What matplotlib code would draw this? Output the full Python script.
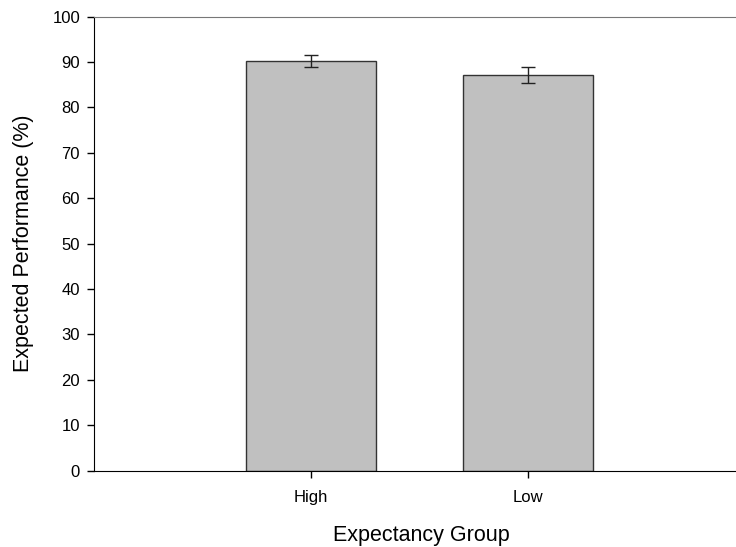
import matplotlib
matplotlib.use("Agg")
import matplotlib.pyplot as plt

groups = ["High", "Low"]
means = [90.25, 87.2]
errors = [1.35, 1.75]

plt.rcParams['font.family'] = ['Liberation Sans', 'DejaVu Sans']

fig = plt.figure(figsize=(7.36, 5.47), dpi=100)
ax = fig.add_axes([0.1277, 0.1395, 0.872, 0.8303])

pos = list(range(len(groups)))
ax.bar(pos, means, width=0.6, color="#c0c0c0", edgecolor="#333333", linewidth=1.0, zorder=2)
ax.errorbar(pos, means, yerr=errors, fmt="none", ecolor="#222222", elinewidth=1.0,
            capsize=5, capthick=1.0, zorder=3)

ax.set_xlim(-1.0, 1.96)
ax.set_ylim(0, 100)
ax.set_yticks(range(0, 101, 10))
ax.set_xticks(pos)
ax.set_xticklabels(groups)

ax.spines["right"].set_visible(False)
ax.spines["top"].set_color("#777777")
ax.spines["left"].set_color("black")
ax.spines["bottom"].set_color("black")
ax.tick_params(axis="y", direction="out", length=5, width=1, labelsize=12, pad=5)
ax.tick_params(axis="x", direction="out", length=5, width=1, labelsize=12, pad=9)

ax.set_xlabel("Expectancy Group", fontsize=15.5, labelpad=14)
ax.xaxis.label.set_x(0.51)
ax.set_ylabel("Expected Performance (%)", fontsize=15.5, labelpad=13)

fig.savefig("out.png", dpi=100)
